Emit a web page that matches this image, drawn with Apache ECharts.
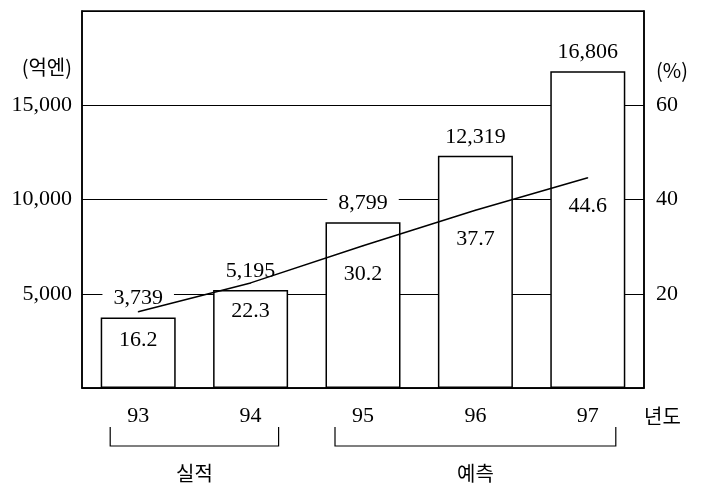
<!DOCTYPE html>
<html>
<head>
<meta charset="utf-8">
<script src="https://cdn.jsdelivr.net/npm/echarts@6/dist/echarts.min.js"></script>
<style>
  html, body { margin: 0; padding: 0; background: #fff; }
  #chart { width: 712px; height: 485px; }
</style>
</head>
<body>
<div id="chart"></div>
<script>
// values
const years = ["93", "94", "95", "96", "97"];
const sales = [3739, 5195, 8799, 12319, 16806];   // 억엔
const shares = [16.2, 22.3, 30.2, 37.7, 44.6];    // %
const groups = [
  { name: "실적", from: 0, to: 1 },
  { name: "예측", from: 2, to: 4 },
];

const FONT = '"Liberation Serif", "Noto Sans CJK KR", serif';
const KFONT = '"Noto Sans CJK KR", sans-serif';

const chart = echarts.init(document.getElementById("chart"));

const option = {
  animation: false,
  backgroundColor: "#fff",
  textStyle: { fontFamily: FONT, color: "#000" },
  grid: {
    left: 82, right: 68, top: 11, bottom: 97,
    show: true, borderColor: "#000", borderWidth: 1.5,
  },
  xAxis: {
    type: "category",
    data: years,
    name: "년도",
    nameLocation: "end",
    nameGap: 0,
    nameTextStyle: {
      fontFamily: KFONT, fontSize: 20, color: "#000",
      align: "left", verticalAlign: "top", padding: [18, 0, 0, 0],
    },
    axisLine: { lineStyle: { color: "#000", width: 1.5 } },
    axisTick: { show: false },
    axisLabel: { fontSize: 22, color: "#000", margin: 17 },
  },
  yAxis: [
    {
      type: "value",
      min: 0, max: 20000, interval: 5000,
      name: "(억엔)",
      nameLocation: "end",
      nameGap: -66,
      nameTextStyle: {
        fontFamily: KFONT, fontSize: 20, color: "#000",
        align: "right", padding: [0, 10, 0, 0],
      },
      axisLine: { show: true, lineStyle: { color: "#000", width: 1.5 } },
      axisTick: { show: false },
      axisLabel: {
        fontSize: 22, color: "#000", margin: 10,
        showMinLabel: false, showMaxLabel: false,
        formatter: (v) => v.toLocaleString("en-US"),
      },
      splitLine: { show: true, lineStyle: { color: "#000", width: 1.2 } },
    },
    {
      type: "value",
      min: 0, max: 80, interval: 20,
      name: "(%)",
      nameLocation: "end",
      nameGap: -69,
      nameTextStyle: {
        fontFamily: KFONT, fontSize: 20, color: "#000",
        align: "left", padding: [0, 0, 0, 12],
      },
      axisLine: { show: true, lineStyle: { color: "#000", width: 1.5 } },
      axisTick: { show: false },
      axisLabel: {
        fontSize: 22, color: "#000", margin: 12,
        showMinLabel: false, showMaxLabel: false,
      },
      splitLine: { show: false },
    },
  ],
  series: [
    {
      type: "bar",
      data: sales,
      barWidth: 75,
      itemStyle: { color: "#fff", borderColor: "#000", borderWidth: 1.5 },
      label: {
        show: true,
        position: "top",
        distance: 8,
        fontSize: 22,
        color: "#000",
        backgroundColor: "#fff",
        padding: [0, 11],
        formatter: (p) => p.value.toLocaleString("en-US"),
      },
      z: 2,
    },
    {
      type: "line",
      yAxisIndex: 1,
      data: shares,
      symbol: "circle",
      symbolSize: 1,
      showAllSymbol: true,
      itemStyle: { color: "#000" },
      lineStyle: { color: "#000", width: 1.5 },
      label: {
        show: true,
        position: "bottom",
        distance: 17,
        fontSize: 22,
        color: "#000",
        formatter: (p) => p.value.toFixed(1),
      },
      z: 3,
    },
  ],
};

chart.setOption(option);

// brackets under the year labels
const graphics = [];
groups.forEach((g) => {
  const x0 = chart.convertToPixel({ xAxisIndex: 0 }, years[g.from]) - 28;
  const x1 = chart.convertToPixel({ xAxisIndex: 0 }, years[g.to]) + 28;
  graphics.push({
    type: "polyline",
    shape: { points: [[x0, 427], [x0, 446], [x1, 446], [x1, 427]] },
    style: { stroke: "#000", lineWidth: 1.2, fill: null },
  });
  graphics.push({
    type: "text",
    x: (x0 + x1) / 2,
    y: 473,
    style: {
      text: g.name,
      font: '20px "Noto Sans CJK KR"',
      fill: "#000",
      textAlign: "center",
      textVerticalAlign: "middle",
    },
  });
});
chart.setOption({ graphic: graphics });
</script>
</body>
</html>
